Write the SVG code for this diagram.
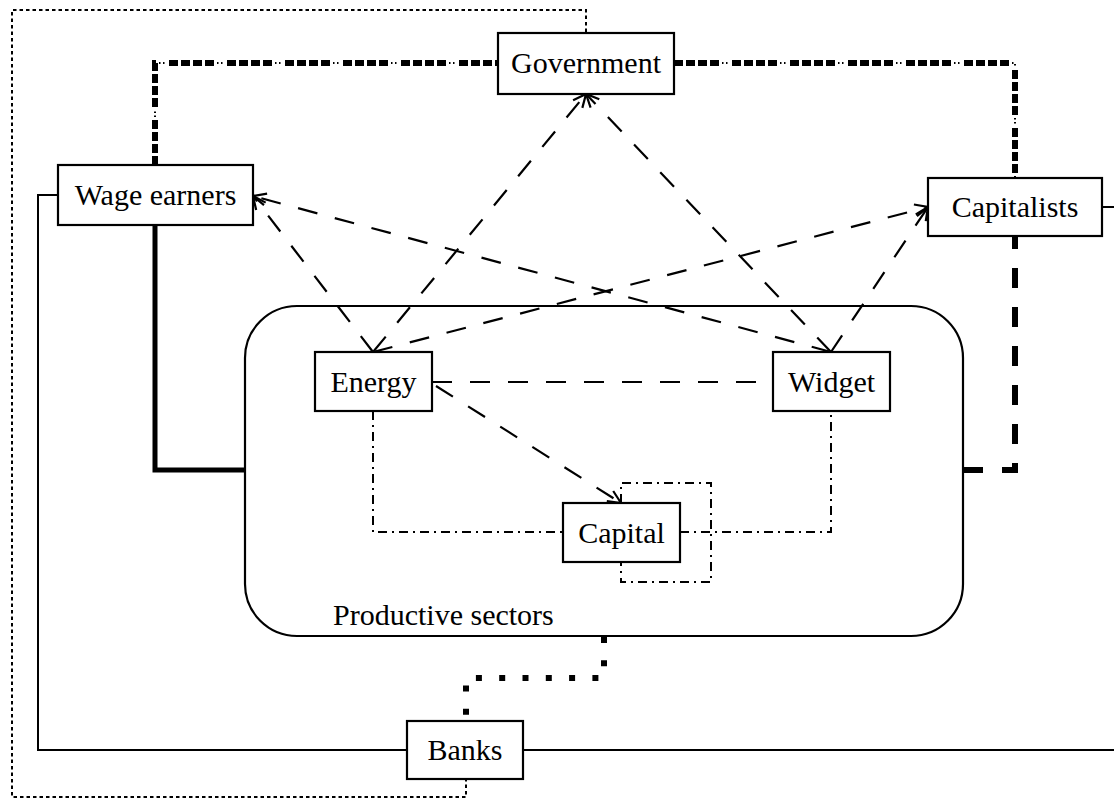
<svg xmlns="http://www.w3.org/2000/svg" width="1114" height="800" viewBox="0 0 1114 800">
<style>
.box{fill:#fff;stroke:#000;stroke-width:2.2}
.lbl{font-family:"Liberation Serif","Times New Roman",serif;font-size:30px;fill:#000;text-anchor:middle}
.dash{fill:none;stroke:#000;stroke-width:2.2;stroke-dasharray:20 18}
.dd{fill:none;stroke:#000;stroke-width:2;stroke-dasharray:9 5 2 5}
.dot{fill:none;stroke:#000;stroke-width:2;stroke-dasharray:3.5 3}
.solid{fill:none;stroke:#000;stroke-width:2}
.thick{fill:none;stroke:#000;stroke-width:5}
.thickdash{fill:none;stroke:#000;stroke-width:6;stroke-dasharray:20 19}
.tdd1{fill:none;stroke:#000;stroke-width:6;stroke-dasharray:9 3 9 3 9 3 9 13}
.tdd2{fill:none;stroke:#000;stroke-width:2;stroke-dasharray:0 48 1.5 2.5 1.5 4.5}
.sq{fill:none;stroke:#000;stroke-width:6;stroke-dasharray:6 17.3}
</style>
<defs>
<marker id="vee" viewBox="-16 -10 20 20" refX="0" refY="0" markerWidth="20" markerHeight="20" orient="auto" markerUnits="userSpaceOnUse">
<path d="M-13,-6 L0,0 L-13,6" fill="none" stroke="#000" stroke-width="2.2"/>
</marker>
</defs>

<g id="productive-sectors">
<rect x="245" y="306" width="718" height="330" rx="52" ry="52" fill="#fff" stroke="#000" stroke-width="2.2"/>
<text x="333" y="625" font-family="Liberation Serif, Times New Roman, serif" font-size="30" fill="#000">Productive sectors</text>
</g>

<g id="connectors">
<path class="dot" d="M586,32 L586,10 L12,10 L12,797 L466,797 L466,779"/>
<path class="solid" d="M58,195 L38,195 L38,750 L407,750"/>
<path class="solid" d="M523,750 L1114,750"/>
<path class="solid" d="M1102,207 L1114,207"/>
<path class="tdd1" d="M155,165 L155,63 L498,63"/>
<path class="tdd2" d="M155,165 L155,63 L498,63"/>
<path class="tdd1" d="M674,63 L1015,63 L1015,178"/>
<path class="tdd2" d="M674,63 L1015,63 L1015,178"/>
<path class="thick" d="M155,225 L155,470 L245,470"/>
<path class="thickdash" d="M963,470 L1015,470 L1015,236"/>
<path class="sq" d="M604,637 L604,678 L466,678 L466,721"/>
<path class="dash" d="M373,352 L253,196" marker-end="url(#vee)"/>
<path class="dash" d="M831,352 L253,196" marker-end="url(#vee)"/>
<path class="dash" d="M373,352 L586,94" marker-end="url(#vee)"/>
<path class="dash" d="M831,352 L586,94" marker-end="url(#vee)"/>
<path class="dash" d="M373,352 L928,207" marker-end="url(#vee)"/>
<path class="dash" d="M831,352 L928,207" marker-end="url(#vee)"/>
<path class="dash" d="M432,382 L773,382"/>
<path class="dash" d="M436,386 L621,503" marker-end="url(#vee)"/>
<path class="dd" d="M373,411 L373,532 L563,532"/>
<path class="dd" d="M680,532 L831,532 L831,411"/>
<path class="dd" d="M621,503 L621,483 L711,483 L711,582 L621,582 L621,562"/>
</g>

<g id="government">
<rect class="box" x="498" y="33" width="176" height="61"/>
<text class="lbl" x="586" y="73">Government</text>
</g>
<g id="wage-earners">
<rect class="box" x="58" y="165" width="195" height="60"/>
<text class="lbl" x="155.5" y="205">Wage earners</text>
</g>
<g id="capitalists">
<rect class="box" x="928" y="178" width="174" height="58"/>
<text class="lbl" x="1015" y="217">Capitalists</text>
</g>
<g id="energy">
<rect class="box" x="315" y="352" width="117" height="59"/>
<text class="lbl" x="373.5" y="392">Energy</text>
</g>
<g id="widget">
<rect class="box" x="773" y="352" width="117" height="59"/>
<text class="lbl" x="831.5" y="392">Widget</text>
</g>
<g id="capital">
<rect class="box" x="563" y="503" width="117" height="59"/>
<text class="lbl" x="621.5" y="543">Capital</text>
</g>
<g id="banks">
<rect class="box" x="407" y="721" width="116" height="58"/>
<text class="lbl" x="465" y="760">Banks</text>
</g>
</svg>
